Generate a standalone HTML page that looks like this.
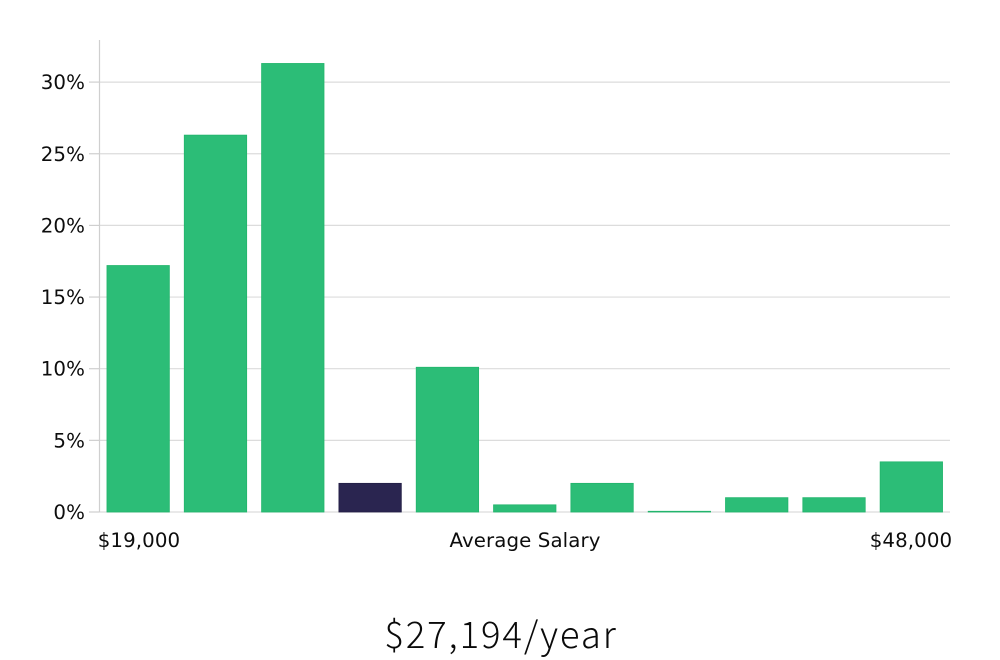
<!DOCTYPE html>
<html>
<head>
<meta charset="utf-8">
<style>
html,body{margin:0;padding:0;background:#fff;width:1000px;height:660px;overflow:hidden}
svg{display:block}
.tick{font-family:"DejaVu Sans",sans-serif;font-size:19.8px;letter-spacing:0.1px;fill:#0d0d0d}
.title{font-family:"Noto Sans CJK JP","Liberation Sans",sans-serif;font-weight:300;font-size:36.5px;letter-spacing:1.9px;fill:#0a0a0a}
</style>
</head>
<body>
<svg id="chart" width="1000" height="660" viewBox="0 0 1000 660" xmlns="http://www.w3.org/2000/svg">
<text class="title" x="501" y="648" text-anchor="middle">$27,194/year</text>
<text class="tick" x="139" y="547" text-anchor="middle">$19,000</text>
<text class="tick" x="525" y="547" text-anchor="middle">Average Salary</text>
<text class="tick" x="911" y="547" text-anchor="middle">$48,000</text>
</svg>
<script>
const categories = ['b1','b2','b3','b4','b5','b6','b7','b8','b9','b10','b11'];
const shares = [17.2,26.3,31.3,2.0,10.1,0.5,2.0,0.05,1.0,1.0,3.5];
const highlighted = ['b4'];
const yTicks = [0,5,10,15,20,25,30];

const NS = 'http://www.w3.org/2000/svg';
const svg = document.getElementById('chart');
const left = 99.5, right = 950, baseY = 512, pxPerUnit = 14.33, topY = 40;
const band = (right - left) / categories.length;
const barW = 62.4;
const yScale = v => baseY - v * pxPerUnit;
const xScale = i => left + band * i + (band - barW) / 2;

function make(tag, attrs) {
  const el = document.createElementNS(NS, tag);
  for (const k in attrs) el.setAttribute(k, attrs[k]);
  return el;
}

yTicks.forEach(t => {
  const y = yScale(t);
  const grid = make('line', {x1: left, x2: right, y1: y, y2: y, stroke: '#dcdcdc', 'stroke-width': 1.2});
  
  
  svg.appendChild(grid);
  const tick = make('line', {x1: 89, x2: left, y1: y, y2: y, stroke: '#cfcfcf', 'stroke-width': 1.2});
  
  
  svg.appendChild(tick);
  const label = make('text', {x: 85, y: y + 7, 'text-anchor': 'end', class: 'tick'});
  label.textContent = t + '%';
  
  
  svg.appendChild(label);
});

const yAxis = make('line', {x1: left, x2: left, y1: topY, y2: baseY, stroke: '#cfcfcf', 'stroke-width': 1.2});


svg.appendChild(yAxis);

categories.forEach((c, i) => {
  const y = yScale(shares[i]);
  const isHi = highlighted.includes(c);
  const bar = make('rect', {
    x: xScale(i), y: y, width: barW, height: baseY - y,
    fill: isHi ? '#2a2550' : '#2cbd77',
    stroke: isHi ? '#231f45' : '#22b56c',
    'stroke-width': 0.8
  });
  
  
  svg.appendChild(bar);
});
</script>
</body>
</html>
